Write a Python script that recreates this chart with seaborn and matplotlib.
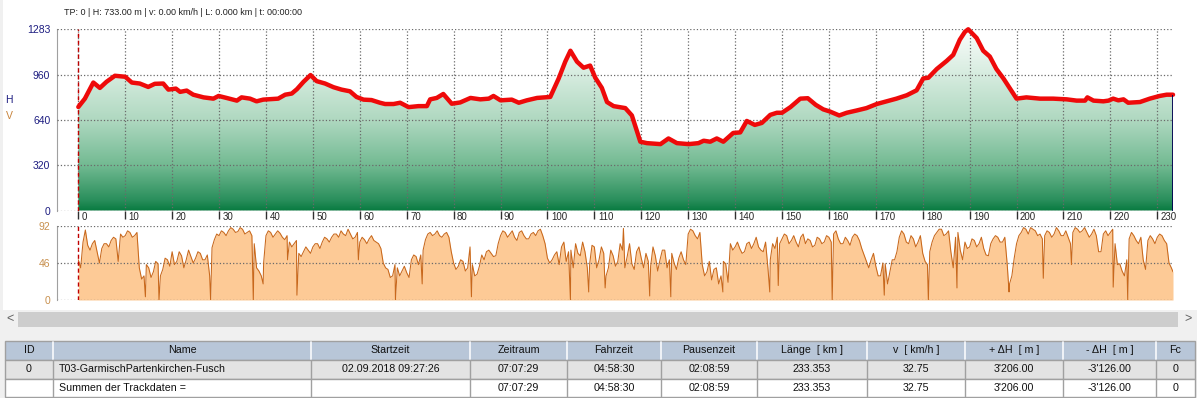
import numpy as np
import pandas as pd
import matplotlib
matplotlib.use('Agg')
import matplotlib.pyplot as plt
import matplotlib.transforms as mtransforms
from matplotlib.colors import LinearSegmentedColormap
from matplotlib.patches import Rectangle
import seaborn as sns

# elevation profile (km, m)
elev_km = [0, 1.4, 3.2, 4.6, 6.0, 7.8, 10.0, 11.4, 13.1, 14.9, 16.3, 18.1, 19.2, 20.8, 21.7,
           23.1, 24.5, 26.7, 28.8, 29.9, 31.6, 33.8, 34.8, 36.6, 38.0, 39.4, 42.6, 44.1, 45.5,
           46.6, 48.0, 49.5, 50.8, 52.6, 54.4, 56.1, 57.9, 59.3, 60.8, 62.5, 64.3, 65.4, 67.2,
           68.6, 70.4, 72.5, 74.3, 75.0, 76.4, 77.8, 79.6, 81.4, 83.6, 85.7, 87.5, 88.5, 90.0,
           92.4, 93.9, 95.6, 97.8, 100.6, 102.4, 103.8, 104.9, 106.3, 107.7, 109.1, 110.2, 111.6,
           112.7, 114.1, 116.6, 118.0, 119.8, 121.2, 124.1, 125.8, 127.6, 130.1, 132.2, 133.3,
           134.7, 136.1, 137.5, 139.6, 141.1, 142.5, 144.2, 145.7, 147.5, 148.9, 150.0, 151.8,
           153.9, 155.5, 157.2, 158.8, 160.2, 162.2, 163.8, 165.9, 168.0, 170.2, 172.3, 174.4,
           176.6, 178.7, 180.1, 181.2, 183.0, 185.1, 186.5, 187.9, 189.0, 189.7, 191.5, 192.9,
           194.3, 195.7, 197.2, 198.6, 200.0, 202.1, 205.0, 207.8, 210.7, 212.8, 214.6, 215.1,
           216.4, 218.5, 219.6, 220.6, 221.7, 222.8, 223.8, 226.3, 228.4, 230.5, 232.0, 233.35]
elev_m = [733, 792, 906, 868, 911, 954, 947, 906, 899, 875, 897, 899, 856, 863, 840,
          849, 820, 801, 792, 811, 797, 778, 801, 792, 773, 785, 792, 820, 828,
          859, 911, 959, 916, 899, 873, 856, 844, 804, 785, 782, 763, 754, 754,
          763, 732, 739, 739, 787, 797, 825, 756, 765, 797, 787, 792, 811, 780,
          785, 763, 780, 797, 804, 935, 1054, 1131, 1054, 1011, 1026, 940, 868,
          768, 739, 725, 673, 487, 477, 470, 510, 477, 470, 477, 494,
          487, 510, 487, 549, 553, 634, 606, 620, 677, 692, 692, 732,
          792, 795, 748, 716, 701, 673, 692, 708, 725, 754, 773, 792,
          816, 851, 935, 940, 1002, 1059, 1102, 1209, 1265, 1283, 1221, 1131,
          1090, 1002, 935, 863, 792, 801, 792, 792, 787, 778, 778, 801,
          778, 773, 778, 792, 780, 787, 763, 768, 792, 811, 820, 820]

# speed at whole km (km/h)
speed = [
    50, 72, 68, 70, 60, 64, 70, 74, 76, 82,
    80, 84, 80, 40, 30, 40, 35, 45, 38, 50,
    60, 48, 55, 50, 54, 52, 58, 50, 30, 75,
    80, 84, 86, 88, 85, 88, 84, 80, 40, 30,
    80, 84, 82, 83, 75, 72, 70, 58, 60, 62,
    66, 70, 72, 76, 78, 82, 86, 80, 82, 78,
    72, 75, 76, 74, 70, 46, 38, 30, 40, 36,
    34, 50, 54, 56, 75, 84, 82, 80, 82, 78,
    46, 42, 48, 40, 44, 32, 56, 60, 58, 55,
    80, 84, 82, 78, 84, 80, 76, 84, 86, 80,
    52, 50, 60, 66, 48, 62, 70, 55, 60, 45,
    66, 50, 58, 40, 55, 48, 62, 54, 45, 60,
    52, 58, 42, 55, 50, 62, 50, 46, 52, 50,
    82, 86, 76, 44, 35, 25, 40, 30, 45, 70,
    66, 64, 60, 72, 70, 66, 60, 40, 70, 78,
    76, 80, 74, 72, 78, 70, 74, 68, 76, 72,
    78, 82, 76, 70, 74, 78, 80, 64, 48, 50,
    42, 30, 45, 35, 50, 78, 82, 70, 76, 72,
    58, 44, 72, 84, 88, 82, 60, 78, 62, 72,
    66, 74, 70, 64, 55, 76, 78, 72, 45, 30,
    70, 84, 88, 90, 86, 82, 80, 84, 82, 86,
    80, 78, 84, 88, 86, 84, 82, 80, 60, 86,
    84, 70, 45, 30, 76, 80, 70, 50, 74, 76,
    78, 80, 70, 40,
]
# speed at half km (0.5, 1.5, ...)
speed_half = [
    40, 87, 62, 74, 46, 70, 66, 78, 48, 78,
    86, 78, 84, 26, 44, 28, 48, 30, 52, 42,
    44, 60, 40, 62, 46, 60, 50, 56, 65, 82,
    86, 80, 90, 84, 90, 82, 86, 70, 36, 46,
    86, 78, 86, 78, 80, 66, 74, 54, 66, 58,
    70, 64, 78, 72, 82, 78, 82, 88, 76, 84,
    78, 70, 80, 72, 64, 40, 28, 44, 30, 42,
    28, 56, 44, 62, 82, 80, 86, 78, 84, 60,
    38, 50, 36, 66, 30, 42, 50, 62, 54, 70,
    86, 78, 86, 74, 86, 76, 82, 80, 88, 70,
    46, 56, 44, 72, 60, 40, 58, 72, 40, 68,
    40, 66, 30, 62, 42, 70, 40, 70, 38, 66,
    40, 48, 66, 36, 62, 40, 58, 38, 60, 44,
    88, 80, 84, 30, 48, 38, 20, 48, 22, 62,
    72, 58, 70, 64, 78, 62, 72, 50, 64, 70,
    82, 70, 80, 66, 82, 76, 66, 78, 70, 80,
    72, 86, 70, 78, 68, 82, 74, 56, 40, 58,
    30, 46, 20, 50, 60, 86, 72, 80, 66, 80,
    48, 60, 80, 88, 80, 86, 40, 84, 50, 64,
    76, 66, 78, 56, 70, 80, 72, 78, 20, 52,
    80, 90, 82, 88, 80, 76, 86, 78, 90, 80,
    86, 70, 90, 84, 90, 78, 88, 60, 82, 80,
    88, 44, 36, 50, 84, 74, 78, 38, 80, 70,
    82, 74, 46,
]
# sharp dips / spikes in between
dip_km = [14.3, 17.2, 28.2, 37.3, 39.4, 44.6, 46.6, 59.7, 67.6, 73.3, 83.8,
          104.9, 108.8, 112.3, 116.2, 121.8, 126.3, 137.4, 147.4, 149.2, 160.7, 171.8, 181.2,
          187.3, 198.4, 205.7, 211.7, 220.6, 223.7, 233.35]
dip_v = [4, 0, 0, 0, 20, 50, 6, 50, 0, 20, 4,
         0, 10, 15, 89, 5, 4, 10, 10, 18, 0, 6, 0,
         15, 10, 27, 44, 16, 0, 35]

x_ticks = list(range(0, 240, 10))
h_ticks = [0, 320, 640, 960, 1283]
v_ticks = [0, 46, 92]

header_text = "TP: 0 | H: 733.00 m | v: 0.00 km/h | L: 0.000 km | t: 00:00:00"
columns = ["ID", "Name", "Startzeit", "Zeitraum", "Fahrzeit", "Pausenzeit", "Länge  [ km ]",
           "v  [ km/h ]", "+ ΔH  [ m ]", "- ΔH  [ m ]", "Fc"]
row_track = ["0", "T03-GarmischPartenkirchen-Fusch", "02.09.2018 09:27:26", "07:07:29", "04:58:30",
             "02:08:59", "233.353", "32.75", "3'206.00", "-3'126.00", "0"]
row_sum = ["", "Summen der Trackdaten =", "", "07:07:29", "04:58:30", "02:08:59", "233.353",
           "32.75", "3'206.00", "-3'126.00", "0"]
col_edges = [5, 53, 311, 470, 567, 661, 757, 867, 965, 1063, 1156, 1195]

sns.set_style('white')
plt.rcParams['font.family'] = ['Liberation Sans', 'DejaVu Sans']

W, H = 1197, 398
fig = plt.figure(figsize=(W / 100, H / 100), dpi=100)
fig.patch.set_facecolor('#f0f0f0')


def px_axes(l, t, r, b):
    return fig.add_axes([l / W, 1 - b / H, (r - l) / W, (b - t) / H])


# background, scrollbar, table
bg = px_axes(0, 0, W, H)
bg.set_xlim(0, W)
bg.set_ylim(H, 0)
bg.axis('off')
bg.set_zorder(0)
bg.add_patch(Rectangle((3, 0), W - 3, 310, color='white', lw=0))
bg.add_patch(Rectangle((18, 311.5), 1160, 15.5, color='#cdcdcd', lw=0))
bg.text(10, 319, '<', ha='center', va='center', fontsize=9, color='#606060')
bg.text(1188, 319, '>', ha='center', va='center', fontsize=9, color='#606060')

row_tops = [341, 359.5, 378.5]
row_h = [18.5, 19, 18.5]
fills = ['#b8c6d8', '#e3e3e3', '#ffffff']
for top, hh, fc in zip(row_tops, row_h, fills):
    bg.add_patch(Rectangle((col_edges[0], top), col_edges[-1] - col_edges[0], hh,
                           facecolor=fc, edgecolor='#a0a0a0', lw=1))
for xe in col_edges[1:-1]:
    bg.plot([xe, xe], [341.5, 359], color='#f4f6fa', lw=1.3)
    bg.plot([xe, xe], [359.5, 397], color='#a0a0a0', lw=1)

for r, (top, hh, row) in enumerate(zip(row_tops, row_h, [columns, row_track, row_sum])):
    yc = top + hh / 2
    for c, txt in enumerate(row):
        if c == 1 and r > 0:
            bg.text(col_edges[1] + 6, yc, txt, ha='left', va='center', fontsize=7.7, color='#111111')
        else:
            bg.text((col_edges[c] + col_edges[c + 1]) / 2, yc, txt, ha='center', va='center',
                    fontsize=7.7, color='#111111')

fig.text(64 / W, 1 - 12.5 / H, header_text, fontsize=6.5, va='center', color='#222222')
fig.text(9 / W, 1 - 100 / H, 'H', fontsize=7.5, va='center', ha='center', color='#1c1c80')
fig.text(9 / W, 1 - 116 / H, 'V', fontsize=7.5, va='center', ha='center', color='#c8843c')

xmin, xmax = -4.48, elev_km[-1]

# elevation panel
ax1 = px_axes(57.3, 29.3, 1173, 210.5)
ax1.set_zorder(1)
ax1.patch.set_alpha(0)
cmap = LinearSegmentedColormap.from_list('elev', [
    (0.0, '#087a40'), (0.06, '#2a8f5c'), (0.25, '#72ba92'),
    (0.5, '#afd8c0'), (0.75, '#d6ecdf'), (1.0, '#fbfdfc')])
grad = np.linspace(0, 1, 256).reshape(-1, 1)
im = ax1.imshow(grad, cmap=cmap, origin='lower', extent=[xmin, xmax, 0, h_ticks[-1]],
                aspect='auto', zorder=1)
poly = ax1.fill_between(elev_km, elev_m, 0, facecolor='none', edgecolor='none')
im.set_clip_path(poly.get_paths()[0], transform=ax1.transData)
sns.lineplot(x=elev_km, y=elev_m, ax=ax1, color='#ee0a0a', lw=3.2, estimator=None,
             sort=False, zorder=4, clip_on=False)
ax1.vlines(elev_km[-1], 0, elev_m[-1], color='#000050', lw=1.3, zorder=5)
ax1.axvline(0, color='#c00000', ls=(0, (3, 2)), lw=1, zorder=3)
ax1.set_xlim(xmin, xmax)
ax1.set_ylim(0, h_ticks[-1])
ax1.set_xticks(x_ticks)
ax1.set_xticklabels([str(t) for t in x_ticks])
ax1.set_yticks(h_ticks)
ax1.set_yticklabels([str(t) for t in h_ticks])
ax1.grid(True, ls=':', color='#6a6a6a', lw=0.9)
ax1.set_axisbelow(False)
for gl in ax1.get_xgridlines() + ax1.get_ygridlines():
    gl.set_zorder(2)
ax1.set_xlabel('')
ax1.set_ylabel('')
for s in ['top', 'right', 'bottom']:
    ax1.spines[s].set_visible(False)
ax1.spines['left'].set_color('#a0a0a0')
ax1.tick_params(axis='y', length=0, pad=5, labelsize=7.5, labelcolor='#1c1c80')
ax1.tick_params(axis='x', direction='out', length=6, width=1, color='#303030',
                labelsize=7, pad=-5, bottom=True)
offset = mtransforms.ScaledTranslation(2.5 / 72, 0, fig.dpi_scale_trans)
for lbl in ax1.get_xticklabels():
    lbl.set_horizontalalignment('left')
    lbl.set_transform(lbl.get_transform() + offset)

# speed panel
n_half = len(speed_half)
spd = pd.DataFrame({
    'km': list(range(len(speed))) + [i + 0.5 for i in range(n_half)] + dip_km,
    'v': speed + speed_half + dip_v,
})
spd = spd.sort_values('km').reset_index(drop=True)
ax2 = px_axes(57.3, 226, 1173, 300)
ax2.set_zorder(1)
ax2.patch.set_alpha(0)
ax2.fill_between(spd['km'], spd['v'], 0, color='#fdca96', lw=0, zorder=1)
sns.lineplot(data=spd, x='km', y='v', ax=ax2, color='#c8681c', lw=0.75, estimator=None,
             sort=True, zorder=3)
ax2.axvline(0, color='#c00000', ls=(0, (3, 2)), lw=1, zorder=4)
ax2.set_xlim(xmin, xmax)
ax2.set_ylim(0, v_ticks[-1])
ax2.set_xticks([])
ax2.set_yticks(v_ticks)
ax2.set_yticklabels([str(t) for t in v_ticks])
ax2.grid(True, axis='y', ls=':', color='#6a6a6a', lw=0.9, zorder=2)
ax2.set_axisbelow(False)
ax2.set_xlabel('')
ax2.set_ylabel('')
for s in ['top', 'right', 'bottom']:
    ax2.spines[s].set_visible(False)
ax2.spines['left'].set_color('#a0a0a0')
ax2.tick_params(axis='y', length=0, pad=5, labelsize=7.5, labelcolor='#c8904e')

fig.savefig('out.png', dpi=100, facecolor=fig.get_facecolor())
plt.close(fig)
